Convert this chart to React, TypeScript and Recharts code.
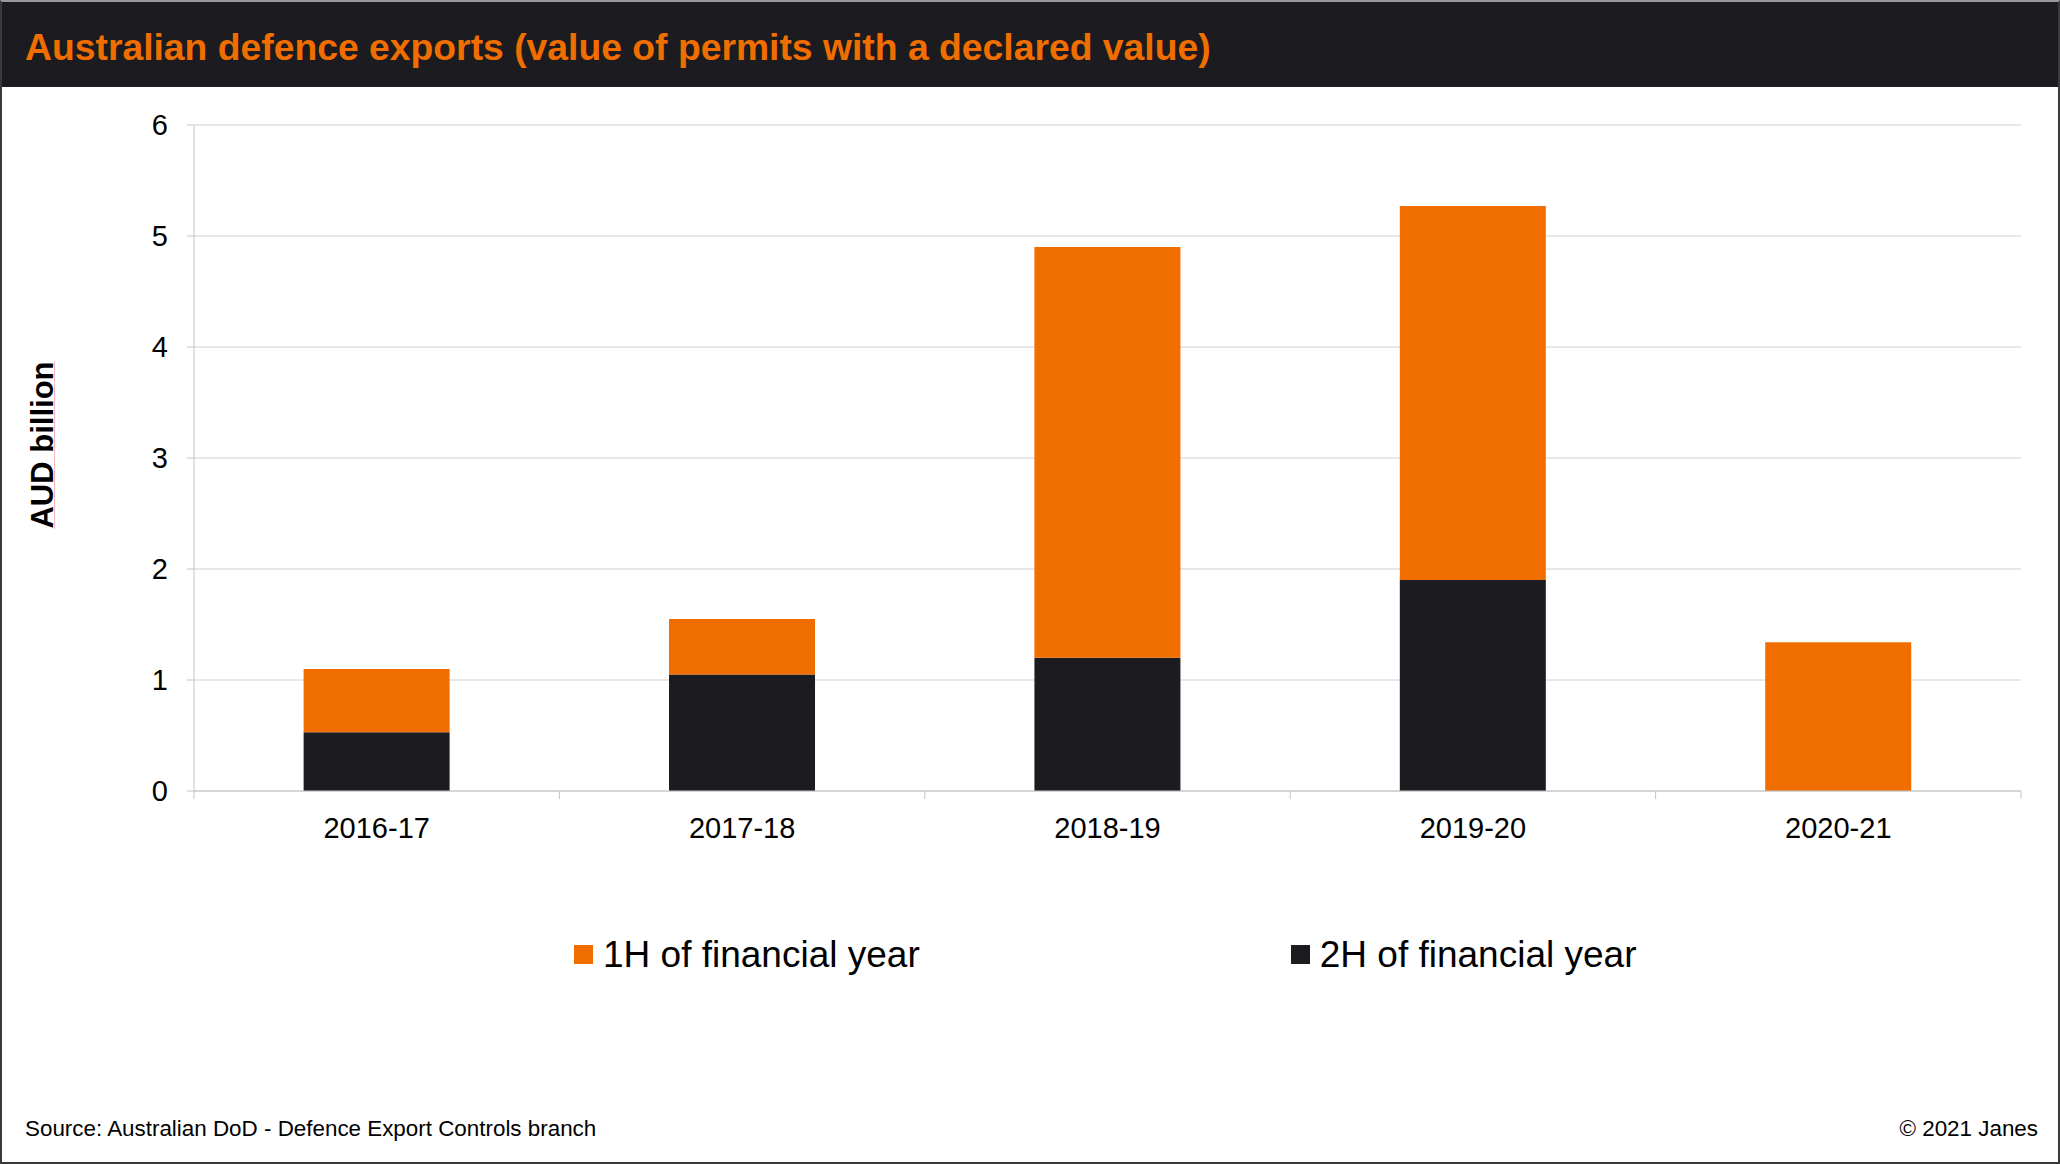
import { BarChart, Bar, XAxis, YAxis, CartesianGrid, Legend } from "recharts";

const categories = ["2016-17", "2017-18", "2018-19", "2019-20", "2020-21"];
const firstHalf = [0.57, 0.5, 3.7, 3.37, 1.34];
const secondHalf = [0.53, 1.05, 1.2, 1.9, 0];
const yTicks = [0, 1, 2, 3, 4, 5, 6];

const data = categories.map((year, i) => ({
  year,
  h1: firstHalf[i],
  h2: secondHalf[i],
}));

const W = 2060;
const H = 1164;
const PLOT_LEFT = 194;
const PLOT_RIGHT = 2021;
const PLOT_TOP = 125;
const PLOT_BOTTOM = 791;
const X_AXIS_H = 60;
const BAND = (PLOT_RIGHT - PLOT_LEFT) / categories.length;

const FONT = "'Liberation Sans', Arial, sans-serif";
const ORANGE = "#f06e00";
const DARK = "#1c1b20";
const AXIS = "#c4c4c4";

const CategoryTick = (props: any) => {
  const { x, y, payload, index } = props;
  const last = index === categories.length - 1;
  return (
    <g>
      <line x1={x - BAND / 2} x2={x - BAND / 2} y1={y} y2={y + 8} stroke={AXIS} />
      {last && <line x1={x + BAND / 2} x2={x + BAND / 2} y1={y} y2={y + 8} stroke={AXIS} />}
      <text x={x} y={y + 47} textAnchor="middle" fontSize={29} fontFamily={FONT} fill="#000">
        {payload.value}
      </text>
    </g>
  );
};

// 1H first, 2H second, whatever order the payload comes in
const LegendContent = (props: any) => {
  const items = [...(props.payload || [])].sort((a: any, b: any) =>
    String(a.value).localeCompare(String(b.value))
  );
  return (
    <div style={{ display: "flex", alignItems: "center", fontFamily: FONT, fontSize: 37, lineHeight: 1 }}>
      {items.map((p: any, i: number) => (
        <div key={p.value} style={{ display: "flex", alignItems: "center", marginRight: i === 0 ? 371 : 0 }}>
          <span style={{ width: 19, height: 19, background: p.color, marginRight: 10, display: "inline-block" }} />
          <span style={{ whiteSpace: "nowrap", color: "#000" }}>{p.value}</span>
        </div>
      ))}
    </div>
  );
};

const App = () => {
  return (
    <div
      style={{
        position: "absolute",
        left: 0,
        top: 0,
        width: W,
        height: H,
        boxSizing: "border-box",
        border: "2px solid #3a3a3a",
        borderTopColor: "#9a9a9a",
        background: "#fff",
        overflow: "hidden",
        fontFamily: FONT,
      }}
    >
      <div style={{ position: "absolute", left: 0, top: 0, width: W, height: 85, background: DARK }} />
      <div
        style={{
          position: "absolute",
          left: 23,
          top: 27,
          fontSize: 37.3,
          lineHeight: 1,
          fontWeight: "bold",
          color: ORANGE,
          whiteSpace: "nowrap",
        }}
      >
        Australian defence exports (value of permits with a declared value)
      </div>

      <div style={{ position: "absolute", left: -2, top: -2 }}>
        <BarChart
          width={W}
          height={H}
          data={data}
          barCategoryGap="30%"
          margin={{ top: PLOT_TOP, right: W - PLOT_RIGHT, bottom: H - PLOT_BOTTOM - X_AXIS_H, left: 0 }}
        >
          <CartesianGrid vertical={false} stroke="#d0d0d0" />
          <XAxis
            dataKey="year"
            height={X_AXIS_H}
            interval={0}
            tickLine={false}
            tickSize={0}
            tickMargin={0}
            axisLine={{ stroke: AXIS }}
            tick={<CategoryTick />}
          />
          <YAxis
            width={PLOT_LEFT}
            domain={[0, 6]}
            ticks={yTicks}
            interval={0}
            tickSize={7}
            tickMargin={19}
            axisLine={{ stroke: AXIS }}
            tickLine={{ stroke: AXIS }}
            tick={{ fontSize: 29, fill: "#000", fontFamily: FONT }}
          />
          <Legend
            layout="horizontal"
            align="center"
            verticalAlign="middle"
            wrapperStyle={{ top: 936, left: 574, width: 1400, height: 40 }}
            content={<LegendContent />}
          />
          <Bar dataKey="h2" name="2H of financial year" stackId="a" fill={DARK} isAnimationActive={false} />
          <Bar dataKey="h1" name="1H of financial year" stackId="a" fill={ORANGE} isAnimationActive={false} />
        </BarChart>
      </div>

      <div
        style={{
          position: "absolute",
          left: 41,
          top: 443,
          transform: "translate(-50%, -50%) rotate(-90deg)",
          fontSize: 31,
          fontWeight: "bold",
          whiteSpace: "nowrap",
          color: "#000",
          textDecoration: "underline dotted #f07070",
          textDecorationThickness: 1,
        }}
      >
        AUD billion
      </div>

      <div style={{ position: "absolute", left: 23, top: 1116, fontSize: 22.4, lineHeight: 1, color: "#000" }}>
        Source: Australian DoD - Defence Export Controls branch
      </div>
      <div style={{ position: "absolute", right: 20, top: 1116, fontSize: 22.4, lineHeight: 1, color: "#000" }}>
        © 2021 Janes
      </div>
    </div>
  );
};

export default App;
